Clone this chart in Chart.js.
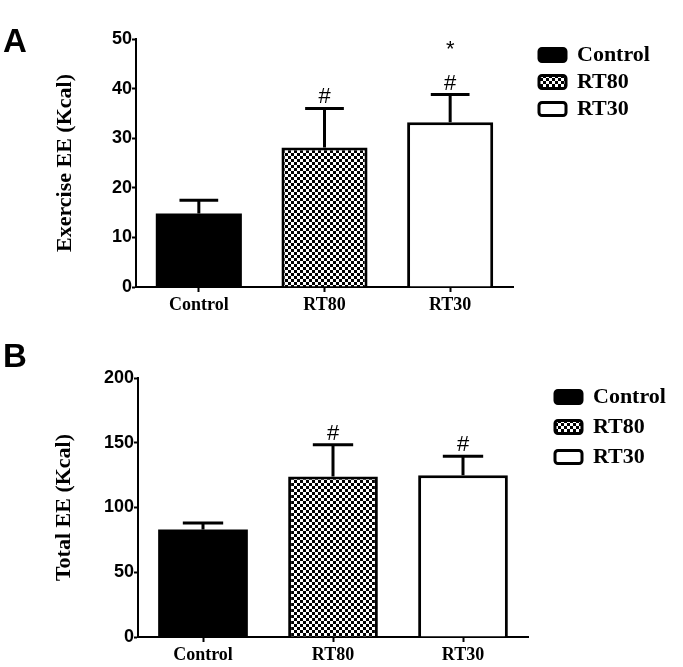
<!DOCTYPE html>
<html>
<head>
<meta charset="utf-8">
<script src="https://cdn.jsdelivr.net/npm/chart.js@4.4.1/dist/chart.umd.min.js"></script>
<style>
  body { margin:0; background:#fff; width:683px; height:667px; position:relative; overflow:hidden; }
  canvas { position:absolute; left:0; }
  #chartA { top:0; }
  #chartB { top:330px; }
  .letter { position:absolute; left:3px; font:bold 33px "Liberation Sans", Arial, sans-serif; line-height:33px; color:#000; }
</style>
</head>
<body>
<canvas id="chartA" width="683" height="330"></canvas>
<canvas id="chartB" width="683" height="337"></canvas>
<div class="letter" style="top:24px">A</div>
<div class="letter" style="top:339px">B</div>
<script>
const categories = ['Control', 'RT80', 'RT30']

// panel A - exercise energy expenditure
const exerciseEE = [14.8, 28.1, 33.2]
const exerciseSEM = [2.7, 7.9, 5.6]
const exerciseHash = ['', '#', '#']
const exerciseStar = ['', '', '*']

// panel B - total energy expenditure
const totalEE = [83, 124, 125]
const totalSEM = [5, 24.5, 14.5]
const totalHash = ['', '#', '#']
const totalStar = ['', '', '']

function checkerPattern(){
    let c = document.createElement('canvas')
    c.width = 6
    c.height = 6
    let g = c.getContext('2d')
    g.fillStyle = '#fff'
    g.fillRect(0, 0, 6, 6)
    g.fillStyle = '#000'
    g.fillRect(0, 0, 3, 3)
    g.fillRect(3, 3, 3, 3)
    return g.createPattern(c, 'repeat')
}

const checker = checkerPattern()

// upper error bar + significance marks
const errorBars = {
    id: 'errorBars',
    afterDatasetsDraw(chart, args, opts){
        let ctx = chart.ctx
        let meta = chart.getDatasetMeta(0)
        let yScale = chart.scales.y
        let values = chart.data.datasets[0].data
        ctx.save()
        ctx.strokeStyle = '#000'
        ctx.fillStyle = '#000'
        ctx.lineWidth = 3
        meta.data.forEach((bar, i)=>{
            let top = yScale.getPixelForValue(values[i] + opts.errors[i])
            let half = bar.width * 0.225
            ctx.beginPath()
            ctx.moveTo(bar.x, bar.y)
            ctx.lineTo(bar.x, top)
            ctx.moveTo(bar.x - half, top)
            ctx.lineTo(bar.x + half, top)
            ctx.stroke()
            ctx.textAlign = 'center'
            ctx.textBaseline = 'alphabetic'
            ctx.font = '22px "Liberation Sans", Arial, sans-serif'
            if(opts.hash[i]){ ctx.fillText(opts.hash[i], bar.x, top - 5) }
            if(opts.star[i]){ ctx.fillText(opts.star[i], bar.x, top - 39) }
        })
        ctx.restore()
    }
}

// push the legend a little away from the plot
const legendShift = {
    id: 'legendShift',
    afterLayout(chart, args, opts){
        chart.legend.left += opts.dx
        chart.legend.right += opts.dx
    }
}

function renderChart(id, values, errors, hash, star, o){
    return new Chart(document.querySelector(id), {
        type: 'bar',
        data: {
            labels: categories,
            datasets: [{
                data: values,
                backgroundColor: ['#000', checker, '#fff'],
                borderColor: '#000',
                borderWidth: [0, 3, 3],
                barPercentage: o.barPct,
                categoryPercentage: 1
            }]
        },
        options: {
            responsive: false,
            animation: false,
            layout: {padding: {top: o.top, right: o.right, bottom: 0, left: 0}},
            plugins: {
                tooltip: {enabled: false},
                legend: {
                    position: 'right',
                    align: 'start',
                    fullSize: false,
                    maxWidth: 120,
                    labels: {
                        boxWidth: 27,
                        boxHeight: 13,
                        padding: o.legendPad,
                        color: '#000',
                        useBorderRadius: true,
                        borderRadius: 3,
                        font: {family: '"Liberation Serif", "Times New Roman", serif', weight: 'bold', size: 22},
                        generateLabels: (chart)=> chart.data.labels.map((label, i)=>({
                            text: label,
                            fillStyle: chart.data.datasets[0].backgroundColor[i],
                            strokeStyle: '#000',
                            lineWidth: 3,
                            borderRadius: 3,
                            hidden: false,
                            index: i
                        }))
                    }
                },
                errorBars: {errors: errors, hash: hash, star: star},
                legendShift: {dx: o.dx}
            },
            scales: {
                x: {
                    z: 1,
                    grid: {offset: false, drawOnChartArea: false, tickLength: 5, tickWidth: 2, color: '#000'},
                    border: {display: true, color: '#000', width: 2},
                    ticks: {color: '#000', padding: 3, font: {family: '"Liberation Serif", "Times New Roman", serif', weight: 'bold', size: 18}},
                    afterFit(scale){ scale.height = o.xHeight }
                },
                y: {
                    z: 1,
                    min: 0,
                    max: o.max,
                    ticks: {stepSize: o.step, color: '#000', padding: 0, font: {family: '"Liberation Sans", Arial, sans-serif', weight: 'bold', size: 18}},
                    grid: {drawOnChartArea: false, tickLength: 4, tickWidth: 2, color: '#000'},
                    border: {display: true, color: '#000', width: 2},
                    title: {
                        display: true,
                        text: o.title,
                        color: '#000',
                        padding: {top: o.titlePad, bottom: 0},
                        font: {family: '"Liberation Serif", "Times New Roman", serif', weight: 'bold', size: 22}
                    },
                    afterFit(scale){ scale.width = o.yWidth }
                }
            }
        },
        plugins: [errorBars, legendShift]
    })
}

renderChart('#chartA', exerciseEE, exerciseSEM, exerciseHash, exerciseStar, {
    title: 'Exercise EE (Kcal)', max: 50, step: 10,
    top: 39, right: 50, xHeight: 43, yWidth: 136, titlePad: 52,
    barPct: 0.685, legendPad: 5, dx: 21
})

renderChart('#chartB', totalEE, totalSEM, totalHash, totalStar, {
    title: 'Total EE (Kcal)', max: 200, step: 50,
    top: 48, right: 35, xHeight: 30, yWidth: 138, titlePad: 51,
    barPct: 0.69, legendPad: 8, dx: 19
})
</script>
</body>
</html>
